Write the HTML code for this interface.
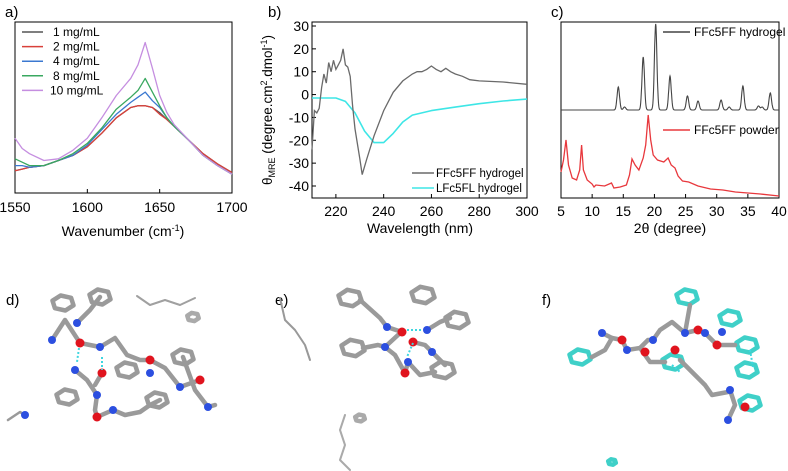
<!DOCTYPE html>
<html><head><meta charset="utf-8">
<style>
html,body{margin:0;padding:0;background:#fff;}
svg{display:block;font-family:"Liberation Sans",Arial,sans-serif;}
</style></head>
<body>
<svg id="fig" width="788" height="471" viewBox="0 0 788 471" xmlns="http://www.w3.org/2000/svg">
<g id="pa"></g>
<g id="pb"></g>
<g id="pc"></g>
<g id="pd"></g>
<g id="pe"></g>
<g id="pf"></g>
</svg>
<script>
// ---------- Panel a data ----------
const aWavenumbers=[1550,1555,1560,1570,1580,1590,1600,1610,1620,1630,1635,1640,1645,1650,1655,1660,1670,1680,1690,1700];
const a1=[13,14,15,16,19,22,27,35,44,50,51,51,50,47,43,39,31,23,17,12];
const a2=[13,14,15,16,19,22,27,35,44,50,51,51,50,46,43,39,31,23,17,12];
const a4=[16,16,15,16,19,22,28,37,46,53,56,59,54,50,44,39,31,22,16,11];
const a8=[20,18,16,16,19,23,29,38,49,56,60,67,59,51,44,39,31,22,16,11];
const a10=[32,26,23,19,20,25,32,44,57,67,75,88,73,57,47,40,31,22,16,11];
const aLabels=["1 mg/mL","2 mg/mL","4 mg/mL","8 mg/mL","10 mg/mL"];
const aTicks=[1550,1600,1650,1700];
// ---------- Panel b data ----------
const bWlFF=[210,211,212,213,214,215,216,217,218,219,220,221,222,223,224,225,226,227,228,230,231,233,236,240,244,248,252,254,256,258,260,262,264,266,268,270,273,276,280,290,300];
const bFF=[-24,-7,-8,-6,3,9,5,14,10,15,11,13,15,20,13,12,8,-5,-15,-28,-35,-28,-18,-7,1,6,9,10,10,11,12.5,11,10,11.5,10,9,8,6.5,6,5.5,4.5];
const bWlFL=[210,220,224,228,232,236,240,244,248,252,260,270,280,290,300];
const bFL=[-1.5,-1.5,-3,-8,-16,-21,-21,-17,-12,-9,-7,-5.5,-4,-2.8,-2];
const bXTicks=[220,240,260,280,300];
const bYTicks=[30,20,10,0,-10,-20,-30,-40];
// ---------- Panel c data ----------
const cGelPeakPos=[14.2,15.2,18.2,20.2,22.5,25.3,27.0,30.7,32.0,34.2,36.7,37.3,38.6];
const cGelPeakHt=[23,3,53,86,34,14,9,10,3,24,4,3,17];
const cGelBase=88;
const cPowderAngle=[5,5.4,5.8,6.2,6.8,7.5,8.0,8.3,8.6,9.2,10,10.3,10.6,12,13.1,13.5,14.5,15.5,16.0,16.4,16.9,17.5,18.2,18.6,19.0,19.4,19.8,20.5,21.5,22.2,22.7,23.3,23.8,24.5,25.5,27,29,31,33,35,37,40];
const cPowder=[26,38,58,33,20,18,28,53,28,18,14,11,13,12,15,10,11,13,23,39,33,28,40,53,83,58,43,38,36,40,33,30,22,17,16,12,9,8,6,5,4,2];
const cTicks=[5,10,15,20,25,30,35,40];

const NS="http://www.w3.org/2000/svg";
function mk(parent,tag,attrs,text){const e=document.createElementNS(NS,tag);for(const k in attrs)e.setAttribute(k,attrs[k]);if(text!==undefined)e.textContent=text;parent.appendChild(e);return e;}
function lin(d0,d1,r0,r1){return v=>r0+(v-d0)*(r1-r0)/(d1-d0);}
function pathOf(xs,ys,sx,sy){return xs.map((x,i)=>(i?'L':'M')+sx(x).toFixed(1)+' '+sy(ys[i]).toFixed(1)).join(' ');}

// ===== Panel A =====
(function(){
const g=document.getElementById('pa');
const sx=lin(1550,1700,15,232), sy=lin(0,100,193,22);
let t=mk(g,'text',{x:5,y:17,'font-size':15});t.textContent='a)';


const box=mk(g,'rect',{x:15,y:22,width:217,height:171,fill:'none',stroke:'#000','stroke-width':1});


aTicks.forEach(v=>{
 mk(g,'line',{x1:sx(v),x2:sx(v),y1:193,y2:189,stroke:'#000'});
 const l=mk(g,'text',{x:sx(v),y:212,'font-size':14,'text-anchor':'middle'},v);
 
 
});
const xt=mk(g,'text',{x:123,y:236,'font-size':14,'text-anchor':'middle'});
xt.innerHTML='Wavenumber (cm<tspan dy="-5" font-size="9">-1</tspan><tspan dy="5">)</tspan>';


const series=[a1,a2,a4,a8,a10], cols=['#555','#d9403a','#3b78d0','#3aa860','#c58ee0'];
series.forEach((s,i)=>{
 const p=mk(g,'path',{d:pathOf(aWavenumbers,s,sx,sy),fill:'none',stroke:cols[i],'stroke-width':1.3,'stroke-linejoin':'round'});
 
 
 const y=32+i*14.6;
 mk(g,'line',{x1:22,x2:43,y1:y,y2:y,stroke:cols[i],'stroke-width':1.5});
 const lt=mk(g,'text',{x:i==4?50:53,y:y+4,'font-size':12},aLabels[i]);
 
 
});
})();

// ===== Panel B =====
(function(){
const g=document.getElementById('pb');
const sx=lin(210,300,312,527), sy=lin(30,-40,26,186);
let t=mk(g,'text',{x:268,y:17,'font-size':15},'b)');


const box=mk(g,'rect',{x:312,y:22,width:215,height:176,fill:'none',stroke:'#000'});


bXTicks.forEach(v=>{
 mk(g,'line',{x1:sx(v),x2:sx(v),y1:198,y2:194,stroke:'#000'});
 const l=mk(g,'text',{x:sx(v),y:216,'font-size':14,'text-anchor':'middle'},v);
 
 
});
bYTicks.forEach(v=>{
 mk(g,'line',{x1:312,x2:316,y1:sy(v),y2:sy(v),stroke:'#000'});
 const l=mk(g,'text',{x:309,y:sy(v)+5,'font-size':14,'text-anchor':'end'},v);
 
 
});
const xt=mk(g,'text',{x:420,y:233,'font-size':14,'text-anchor':'middle'},'Wavelength (nm)');


const yt=mk(g,'text',{x:0,y:0,'font-size':13.5,'text-anchor':'middle',transform:'translate(272,110) rotate(-90)'});
yt.innerHTML='θ<tspan dy="3" font-size="9">MRE</tspan><tspan dy="-3"> (degree.cm</tspan><tspan dy="-5" font-size="9">2</tspan><tspan dy="5">.dmol</tspan><tspan dy="-5" font-size="9">-1</tspan><tspan dy="5">)</tspan>';


const p2=mk(g,'path',{d:pathOf(bWlFL,bFL,sx,sy),fill:'none',stroke:'#3ee6e6','stroke-width':1.6,'stroke-linejoin':'round'});


const p1=mk(g,'path',{d:pathOf(bWlFF,bFF,sx,sy),fill:'none',stroke:'#6a6a6a','stroke-width':1.3});


[['FFc5FF hydrogel','#6a6a6a',173],['LFc5FL hydrogel','#3ee6e6',188]].forEach(e=>{
 mk(g,'line',{x1:412,x2:434,y1:e[2],y2:e[2],stroke:e[1],'stroke-width':1.6});
 const lt=mk(g,'text',{x:436,y:e[2]+4,'font-size':11.5},e[0]);
 
 
});
})();

// ===== Panel C =====
(function(){
const g=document.getElementById('pc');
const sx=lin(5,40,561,779), sy=v=>198-v;
let t=mk(g,'text',{x:551,y:17,'font-size':15},'c)');


const box=mk(g,'rect',{x:561,y:22,width:218,height:176,fill:'none',stroke:'#000'});


cTicks.forEach(v=>{
 mk(g,'line',{x1:sx(v),x2:sx(v),y1:198,y2:194,stroke:'#000'});
 const l=mk(g,'text',{x:sx(v),y:216,'font-size':14,'text-anchor':'middle'},v);
 
 
});
const xt=mk(g,'text',{x:670,y:233,'font-size':14,'text-anchor':'middle'},'2θ (degree)');


const gx=[],gy=[];
for(let a=5;a<=40.001;a+=0.05){let v=cGelBase;cGelPeakPos.forEach((p,i)=>{v+=cGelPeakHt[i]*Math.exp(-Math.pow((a-p)/0.2,2)/2);});gx.push(a);gy.push(v);}
const p1=mk(g,'path',{d:pathOf(gx,gy,sx,sy),fill:'none',stroke:'#444','stroke-width':1.1});


const p2=mk(g,'path',{d:pathOf(cPowderAngle,cPowder,sx,sy),fill:'none',stroke:'#e8383d','stroke-width':1.3});


[['FFc5FF hydrogel','#444',32],['FFc5FF powder','#e8383d',130]].forEach(e=>{
 mk(g,'line',{x1:663,x2:690,y1:e[2],y2:e[2],stroke:e[1],'stroke-width':1.5});
 const lt=mk(g,'text',{x:694,y:e[2]+4,'font-size':12},e[0]);
 
 
});
})();

// ===== Molecular models (decorative) =====
function ring(g,cx,cy,r,col){let pts=[];for(let i=0;i<6;i++){const a=Math.PI/3*i+0.3;pts.push((cx+r*Math.cos(a)).toFixed(1)+','+(cy+r*0.7*Math.sin(a)).toFixed(1));}
 mk(g,'polygon',{points:pts.join(' '),fill:'none',stroke:col,'stroke-width':4.5,'stroke-linejoin':'round'});}
function chain(g,pts,col,w){mk(g,'polyline',{points:pts.map(p=>p.join(',')).join(' '),fill:'none',stroke:col,'stroke-width':w||4.5,'stroke-linejoin':'round','stroke-linecap':'round'});}
function atom(g,x,y,c,r){mk(g,'circle',{cx:x,cy:y,r:r||4,fill:c});}
function hb(g,x1,y1,x2,y2){mk(g,'line',{x1,y1,x2,y2,stroke:'#3ed6e0','stroke-width':2,'stroke-dasharray':'2,2'});}
const GR='#9a9a9a',RD='#e0141e',BL='#2c4fe0',CY='#3fd0c8';
(function(){
const g=document.getElementById('pd');
let t=mk(g,'text',{x:6,y:305,'font-size':15},'d)');


[[63,303],[100,297],[183,357],[127,370],[67,397],[157,400]].forEach(p=>ring(g,p[0],p[1],11,GR));
chain(g,[[52,340],[65,320],[80,343],[100,347],[115,338],[127,355],[140,360],[150,360],[165,368],[180,387],[200,380]],GR);
chain(g,[[77,323],[90,310],[100,297]],GR);
chain(g,[[75,370],[87,380],[97,395],[95,410],[97,417],[113,410],[125,415],[140,412],[150,405],[160,400]],GR);
chain(g,[[102,373],[95,385]],GR);
chain(g,[[183,357],[195,390],[208,407],[215,405]],GR);
chain(g,[[8,420],[20,412],[25,415]],GR,2.5);
chain(g,[[137,296],[150,305],[165,300],[180,305],[195,298]],'#a0a0a0',2);
ring(g,193,317,6,'#aaa');
[[80,343],[102,373],[97,417],[150,360],[200,380]].forEach(p=>atom(g,p[0],p[1],RD,4.5));
[[52,340],[77,323],[100,347],[75,370],[97,395],[113,410],[180,387],[208,407],[150,373],[25,415]].forEach(p=>atom(g,p[0],p[1],BL,4));
hb(g,79,348,77,362);hb(g,102,357,102,370);
})();
(function(){
const g=document.getElementById('pe');
let t=mk(g,'text',{x:275,y:305,'font-size':15},'e)');


[[350,298],[423,295],[457,320],[353,348],[443,370]].forEach(p=>ring(g,p[0],p[1],12,GR));
chain(g,[[360,300],[380,318],[387,327],[402,332]],GR);
chain(g,[[363,348],[378,345],[385,347],[395,355],[405,373],[408,362],[420,375],[435,372]],GR);
chain(g,[[385,347],[398,335]],GR);
chain(g,[[413,342],[425,345],[432,352],[445,365]],GR);
chain(g,[[427,330],[440,322],[450,318]],GR);
chain(g,[[280,298],[285,320],[295,330],[305,345],[310,360]],'#999',2);
chain(g,[[345,415],[340,430],[345,445],[340,460],[350,470]],'#aaa',2);
ring(g,360,418,5,'#aaa');
[[402,332],[413,342],[405,373]].forEach(p=>atom(g,p[0],p[1],RD,4.5));
[[387,327],[385,347],[408,362],[432,352],[427,330]].forEach(p=>atom(g,p[0],p[1],BL,4));
hb(g,407,330,423,330);hb(g,413,343,407,357);
})();
(function(){
const g=document.getElementById('pf');
let t=mk(g,'text',{x:542,y:305,'font-size':15},'f)');


[[580,357],[687,297],[730,318],[747,345],[673,362],[747,370],[750,403]].forEach(p=>ring(g,p[0],p[1],11,CY));
ring(g,612,462,4,CY);
chain(g,[[592,357],[605,350],[612,338],[622,340],[627,350],[640,348],[648,340],[653,340],[660,330],[672,322],[685,333],[698,330],[705,333],[717,345],[735,345]],GR);
chain(g,[[640,348],[650,362],[665,362]],GR);
chain(g,[[680,360],[695,375],[705,385],[712,395],[728,392],[730,390],[735,405],[728,420]],GR);
chain(g,[[685,333],[690,305]],GR);
chain(g,[[602,333],[612,338]],GR);
[[622,340],[698,330],[717,345],[675,350],[645,352],[745,407]].forEach(p=>atom(g,p[0],p[1],RD,4.5));
[[602,333],[627,350],[653,340],[685,333],[705,333],[722,332],[728,420],[730,390]].forEach(p=>atom(g,p[0],p[1],BL,4));
hb(g,750,350,753,367);hb(g,672,365,680,372);
})();
</script>
</body></html>
